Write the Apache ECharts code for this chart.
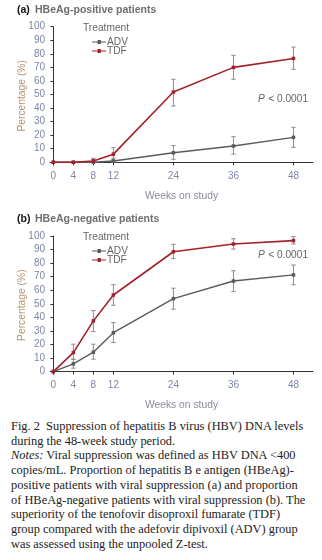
<!DOCTYPE html>
<html>
<head>
<meta charset="utf-8">
<script src="https://cdn.jsdelivr.net/npm/echarts@6/dist/echarts.min.js"></script>
<style>
  html, body { margin: 0; padding: 0; background: #fff; }
  #wrap { position: relative; width: 322px; height: 560px; overflow: hidden; }
  #chart { position: absolute; left: 0; top: 0; width: 322px; height: 415px; }
  #caption {
    position: absolute; left: 11px; top: 419px; width: 315px;
    font-family: "Liberation Serif", "DejaVu Serif", serif;
    font-size: 12.4px; line-height: 14.7px; color: #222; white-space: nowrap;
  }
  #caption i { font-style: italic; }
</style>
</head>
<body>
<div id="wrap">
  <div id="chart"></div>
  <div id="caption">
    Fig. 2&nbsp; Suppression of hepatitis B virus (HBV) DNA levels<br>
    during the 48-week study period.<br>
    <i>Notes:</i> Viral suppression was defined as HBV DNA &lt;400<br>
    copies/mL. Proportion of hepatitis B e antigen (HBeAg)-<br>
    positive patients with viral suppression (a) and proportion<br>
    of HBeAg-negative patients with viral suppression (b). The<br>
    superiority of the tenofovir disoproxil fumarate (TDF)<br>
    group compared with the adefovir dipivoxil (ADV) group<br>
    was assessed using the unpooled Z-test.
  </div>
</div>
<script>
// Study visits (weeks) and axis ticks
const weeks = [0, 4, 8, 12, 24, 36, 48];
const weekTicks = [0, 4, 8, 12, 24, 36, 48];
const pctTicks = [0, 10, 20, 30, 40, 50, 60, 70, 80, 90, 100];

// (a) HBeAg-positive: percentage with HBV DNA < 400 copies/mL
const posADV     = [0, 0, 0, 1, 7, 12, 18.4];
const posADVLow  = [0, 0, 0, 0, 2.2, 6, 11];
const posADVHigh = [0, 0, 2, 3, 12.3, 18.9, 25.8];
const posTDF     = [0, 0, 1, 6, 51.8, 70, 76.6];
const posTDFLow  = [0, 0, 0, 1.5, 41.5, 61.2, 68.6];
const posTDFHigh = [0, 0, 3, 10.8, 61.2, 78.9, 85];

// (b) HBeAg-negative
const negADV     = [0, 5.7, 14.3, 28.7, 53.8, 66.8, 71.3];
const negADVLow  = [0, 2.5, 9.1, 21.4, 46, 59, 64];
const negADVHigh = [0, 9.1, 20.2, 36.1, 61.5, 74.4, 78.6];
const negTDF     = [0, 14, 37.4, 56.5, 88.4, 94.1, 96.6];
const negTDFLow  = [0, 9, 29.5, 48.9, 83.3, 90.4, 94.1];
const negTDFHigh = [0, 20.2, 45, 64.1, 93.9, 98, 99.5];

const RED = '#a3222a';
const GRAY = '#5a5a5a';
const BAR = '#8c8c8c';
const TICK_COLOR = '#7d86a6';
const FONT = 'Liberation Sans, Arial, sans-serif';

// legend glyph: short line with a small square marker in the middle
const LEGEND_ICON = 'path://M0,1.6L6,1.6L6,0L9.5,0L9.5,1.6L15,1.6L15,2.6L9.5,2.6L9.5,4.2L6,4.2L6,2.6L0,2.6Z';

const pairs = (ys) => weeks.map((w, i) => [w, ys[i]]);
const bars = (lo, hi) => weeks.map((w, i) => [w, lo[i], hi[i]])
  .filter(d => d[2] - d[1] > 0.5);

function errorBars(name, lo, hi, axisIdx) {
  return {
    type: 'custom', name: name + ' CI', xAxisIndex: axisIdx, yAxisIndex: axisIdx,
    silent: true, z: 1,
    data: bars(lo, hi),
    renderItem(params, api) {
      const x = api.value(0);
      const a = api.coord([x, api.value(1)]);
      const b = api.coord([x, api.value(2)]);
      const w = 2.2;
      const style = { stroke: BAR, lineWidth: 1 };
      return {
        type: 'group',
        children: [
          { type: 'line', shape: { x1: a[0], y1: a[1], x2: b[0], y2: b[1] }, style },
          { type: 'line', shape: { x1: a[0] - w, y1: a[1], x2: a[0] + w, y2: a[1] }, style },
          { type: 'line', shape: { x1: b[0] - w, y1: b[1], x2: b[0] + w, y2: b[1] }, style }
        ]
      };
    }
  };
}

function lineSeries(name, ys, color, axisIdx) {
  return {
    type: 'line', name, xAxisIndex: axisIdx, yAxisIndex: axisIdx,
    data: pairs(ys), color,
    symbol: 'rect', symbolSize: 3.5, showSymbol: true,
    lineStyle: { width: name === 'TDF' ? 1.6 : 1.4, color },
    itemStyle: { color },
    z: 3, animation: false
  };
}

function xAxis(gridIndex) {
  return {
    type: 'value', gridIndex, min: -0.67, max: 51.9,
    name: 'Weeks on study', nameLocation: 'middle', nameGap: 26,
    nameTextStyle: { color: '#8b8d99', fontSize: 10.3, fontFamily: FONT },
    axisLine: { lineStyle: { color: '#333', width: 1 } },
    axisTick: { show: true, customValues: weekTicks, length: 3, lineStyle: { color: '#333' } },
    axisLabel: { customValues: weekTicks, color: TICK_COLOR, fontSize: 10, fontFamily: FONT, margin: 6 },
    splitLine: { show: false }
  };
}
function yAxis(gridIndex) {
  return {
    type: 'value', gridIndex, min: -2, max: 100,
    name: 'Percentage (%)', nameLocation: 'middle', nameGap: 23, nameMoveOverlap: false,
    nameTextStyle: { color: '#b4946f', fontSize: 10.3, fontFamily: FONT },
    axisLine: { show: true, lineStyle: { color: '#333', width: 1 } },
    axisTick: { show: true, customValues: pctTicks, length: 3, lineStyle: { color: '#333' } },
    axisLabel: { customValues: pctTicks, color: TICK_COLOR, fontSize: 10, fontFamily: FONT, margin: 5 },
    splitLine: { show: false }
  };
}

function legend(top) {
  return {
    orient: 'vertical', left: 92, top, itemGap: -1, padding: 0,
    itemWidth: 14, itemHeight: 4, icon: LEGEND_ICON,
    textStyle: { color: '#666', fontSize: 10.2, fontFamily: FONT, padding: [0, 0, 0, -4] },
    data: ['ADV', 'TDF'], selectedMode: false
  };
}

function plain(text, x, y, extra) {
  return { type: 'text', x, y, style: Object.assign({ text, fontFamily: FONT, fontSize: 10.2, fill: '#666' }, extra || {}) };
}
function pValue(x, y) {
  return { type: 'text', x, y, style: { rich: {
      p: { fontFamily: FONT, fontStyle: 'italic', fontSize: 10.2, fill: '#666' },
      t: { fontFamily: FONT, fontSize: 10.2, fill: '#666' } },
    text: '{p|P} {t|< 0.0001}' } };
}
const headBold = { fontWeight: 'bold', fontSize: 10.5 };

const chart = echarts.init(document.getElementById('chart'), null, { renderer: 'canvas' });
chart.setOption({
  animation: false,
  grid: [
    { left: 50, right: 9, top: 26.7, height: 138.3, containLabel: false },
    { left: 50, right: 9, top: 236, height: 138.3, containLabel: false }
  ],
  xAxis: [xAxis(0), xAxis(1)],
  yAxis: [yAxis(0), yAxis(1)],
  legend: [legend(37), legend(246)],
  graphic: [
    plain('(a)', 17, 5, Object.assign({ fill: '#111' }, headBold)),
    plain('HBeAg-positive patients', 35, 5, Object.assign({ fill: '#6e6e6e' }, headBold)),
    plain('(b)', 17, 214, Object.assign({ fill: '#111' }, headBold)),
    plain('HBeAg-negative patients', 35, 214, Object.assign({ fill: '#6e6e6e' }, headBold)),
    plain('Treatment', 83, 23),
    plain('Treatment', 83, 232),
    pValue(258, 93),
    pValue(258, 249)
  ],
  series: [
    errorBars('ADV', posADVLow, posADVHigh, 0),
    errorBars('TDF', posTDFLow, posTDFHigh, 0),
    lineSeries('ADV', posADV, GRAY, 0),
    lineSeries('TDF', posTDF, RED, 0),
    errorBars('ADV', negADVLow, negADVHigh, 1),
    errorBars('TDF', negTDFLow, negTDFHigh, 1),
    lineSeries('ADV', negADV, GRAY, 1),
    lineSeries('TDF', negTDF, RED, 1)
  ]
});
</script>
</body>
</html>
